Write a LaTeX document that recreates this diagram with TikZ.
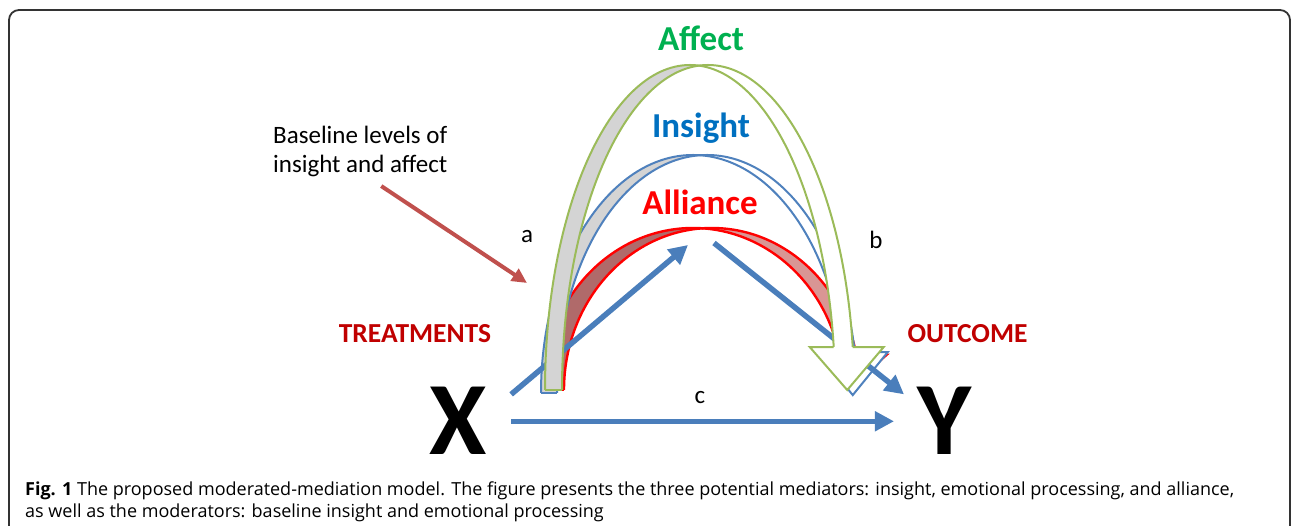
\documentclass[tikz,border=0pt]{standalone}
\usepackage{fontspec}
\setmainfont{Carlito}
\newfontfamily\capfont{Open Sans}
\usetikzlibrary{arrows.meta,calc}
\definecolor{affectgreen}{HTML}{00B050}
\definecolor{affectline}{HTML}{9BBB59}
\definecolor{insighttext}{HTML}{0070C0}
\definecolor{insightline}{HTML}{4F81BD}
\definecolor{pathblue}{HTML}{4A7EBB}
\definecolor{allianceleft}{HTML}{B06A6A}
\definecolor{allianceright}{HTML}{D99694}
\definecolor{bandgray}{HTML}{D4D4D4}
\definecolor{labelred}{HTML}{C00000}
\definecolor{pointer}{HTML}{C0504D}

\begin{document}
\begin{tikzpicture}[x=1pt,y=1pt]
		\useasboundingbox (0,0) rectangle (1292,526);
		\tikzstyle path_style=[draw=pathblue,line width=5.5pt,-{Triangle[length=19pt,width=19pt]}];
		\tikzstyle med_style=[font=\fontsize{35}{42}\selectfont\bfseries,anchor=base];
		\tikzstyle side_style=[text=labelred,font=\fontsize{27.5}{33}\selectfont\bfseries,anchor=base];
		\tikzstyle letter_style=[font=\fontsize{25}{30}\selectfont,anchor=base];
		\tikzstyle var_style=[font=\fontsize{104}{110}\selectfont\bfseries,anchor=base,inner sep=0pt,outer xsep=24pt];

		%FRAME
		\draw[line width=1.8pt,color=black!80,rounded corners=10pt] (9,-20) -- (9,516) -- (1290,516) -- (1290,-20);

		% X AND Y
		\node[var_style] (X) at (458.5,71) {X};
		\node[var_style] (Y) at (945,71) {Y};

		%ALLIANCE ARC (red)
		\fill[allianceleft] (543,136) arc[start angle=180,end angle=90,x radius=150pt,y radius=162pt]
			-- (712,298) arc[start angle=90,end angle=180,x radius=148pt,y radius=162pt] -- cycle;
		\fill[allianceright] (693,298) arc[start angle=90,end angle=12.5,x radius=150pt,y radius=162pt]
			-- ($(712,136)+(12.5:148pt and 162pt)$) arc[start angle=12.5,end angle=90,x radius=148pt,y radius=162pt] -- cycle;
		\draw[red,line width=2.4pt] (543,136) arc[start angle=180,end angle=12.5,x radius=150pt,y radius=162pt] coordinate (allA);
		\draw[red,line width=2.4pt] (564,136) arc[start angle=180,end angle=12.5,x radius=148pt,y radius=162pt] coordinate (allB);
		\draw[red,line width=2.4pt] (543,136) -- (564,136);
		\filldraw[fill=white,draw=red,line width=2.4pt]
			(allA) -- ($(allA)+(-20,0)$) -- ($(allA)!0.5!(allB)+(0,-34)$) -- ($(allB)+(30,0)$) -- (allB);

		%INSIGHT ARC (blue)
		\fill[bandgray] (541,133) arc[start angle=180,end angle=90,x radius=152pt,y radius=238pt]
			-- (707,371) arc[start angle=90,end angle=180,x radius=150pt,y radius=238pt] -- cycle;
		\draw[insightline,line width=2pt] (541,133) arc[start angle=180,end angle=9.9,x radius=152pt,y radius=238pt] coordinate (insA);
		\draw[insightline,line width=2pt] (557,133) arc[start angle=180,end angle=9.9,x radius=150pt,y radius=238pt] coordinate (insB);
		\draw[insightline,line width=2pt] (541,133) -- (557,133);
		\filldraw[fill=white,draw=insightline,line width=2pt]
			(insA) -- ($(insA)+(-25,0)$) -- ($(insA)!0.5!(insB)+(4,-43)$) -- ($(insB)+(33,0)$) -- (insB);

		%PATHS a, b AND c
		\coordinate (aTip) at (688,281);
		\coordinate (bStart) at (714,283);
		\draw[path_style] ([yshift=-7pt]X.north east) -- (aTip);
		\draw[path_style] (bStart) -- ([xshift=10pt,yshift=-7pt]Y.north west);
		\draw[path_style] (X) -- (Y);

		%AFFECT ARC (green)
		\fill[bandgray] (545,136) arc[start angle=180,end angle=90,x radius=145pt,y radius=325pt]
			-- (708,461) arc[start angle=90,end angle=180,x radius=146pt,y radius=325pt] -- cycle;
		\fill[white] (690,461) arc[start angle=90,end angle=7.6,x radius=145pt,y radius=325pt]
			-- ($(708,136)+(7.6:146pt and 325pt)$) arc[start angle=7.6,end angle=90,x radius=146pt,y radius=325pt] -- cycle;
		\draw[affectline,line width=2pt] (545,136) arc[start angle=180,end angle=7.6,x radius=145pt,y radius=325pt] coordinate (affA);
		\draw[affectline,line width=2pt] (562,136) arc[start angle=180,end angle=7.6,x radius=146pt,y radius=325pt] coordinate (affB);
		\draw[affectline,line width=2pt] (545,136) -- (562,136);
		\filldraw[fill=white,draw=affectline,line width=2pt]
			(affA) -- ($(affA)+(-24,0)$) -- ($(affA)!0.5!(affB)+(4,-43)$) -- ($(affB)+(31,0)$) -- (affB);

		%LABELS
		\node[med_style,text=affectgreen] (affect) at (701,475) {Affect};
		\node[med_style,text=insighttext] (insight) at (701,388) {Insight};
		\node[med_style,text=red] (alliance) at (700,311) {Alliance};
		\node[side_style] (treat) at (415,183) {TREATMENTS};
		\node[side_style] (outcome) at (967.5,183) {OUTCOME};
		\node[letter_style] (la) at (527,283) {a};
		\node[letter_style] (lb) at (876,277) {b};
		\node[letter_style] (lc) at (700,122) {c};

		%MODERATOR NOTE
		\node[anchor=north west,align=left,inner sep=0pt,font=\fontsize{25}{29}\selectfont] (base) at (273,400)
			{Baseline levels of\\insight and affect};
		\coordinate (redTip) at (527,243);
		\draw[pointer,line width=4pt,-{Triangle[length=15pt,width=14pt]}] ([xshift=21pt,yshift=-9pt]base.south) -- (redTip);

		%CAPTION
		\node[anchor=base west,inner sep=0pt,font=\capfont\fontsize{18}{22}\selectfont] (cap1) at (25,30)
			{\textbf{Fig. 1} The proposed moderated-mediation model. The figure presents the three potential mediators: insight, emotional processing, and alliance,};
		\node[anchor=base west,inner sep=0pt,font=\capfont\fontsize{18}{22}\selectfont] (cap2) at (25,8)
			{as well as the moderators: baseline insight and emotional processing};
\end{tikzpicture}
\end{document}
